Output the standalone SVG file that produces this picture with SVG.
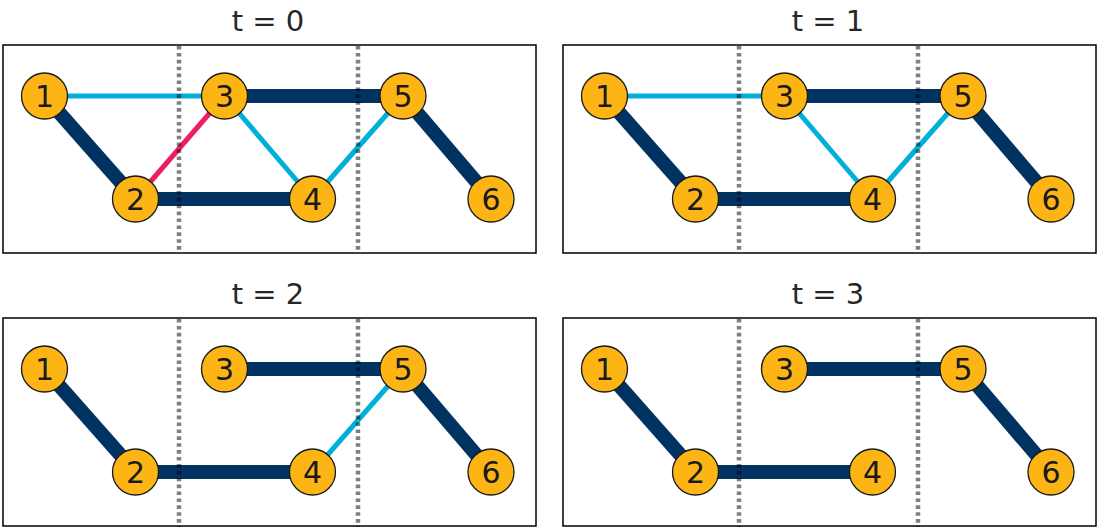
<svg xmlns="http://www.w3.org/2000/svg" width="1098" height="527" viewBox="0 0 1098 527">
<style>
.frame{fill:none;stroke:#000;stroke-width:1.5}
.title{font-family:"DejaVu Sans",sans-serif;font-size:29px;fill:#262626;text-anchor:middle}
.thick{stroke:#003262;stroke-width:14;fill:none}
.blue{stroke:#00B0DA;stroke-width:5;fill:none}
.pink{stroke:#EE1F60;stroke-width:5;fill:none}
.sep{stroke:#000;stroke-opacity:0.5;stroke-width:4.5;stroke-dasharray:3.6 3.3;fill:none}
.node circle{fill:#FDB515;stroke:#1a1a1a;stroke-width:1.3}
.node text{font-family:"DejaVu Sans",sans-serif;font-size:30px;fill:#1a1a1a;text-anchor:middle}
</style>
<rect width="1098" height="527" fill="#fff"/>
<g id="frames">
<rect class="frame" x="3" y="45" width="533" height="208"/>
<rect class="frame" x="563" y="45" width="533" height="208"/>
<rect class="frame" x="3" y="318" width="533" height="208"/>
<rect class="frame" x="563" y="318" width="533" height="208"/>
<text class="title" x="268" y="31">t = 0</text>
<text class="title" x="828" y="31">t = 1</text>
<text class="title" x="268" y="304">t = 2</text>
<text class="title" x="828" y="304">t = 3</text>
</g>
<g id="connectors">
<!-- t=0 -->
<line class="blue" x1="44.5" y1="96" x2="224.5" y2="96"/>
<line class="thick" x1="44.5" y1="96" x2="135.5" y2="199"/>
<line class="pink" x1="135.5" y1="199" x2="224.5" y2="96"/>
<line class="thick" x1="224.5" y1="96" x2="403" y2="96"/>
<line class="blue" x1="224.5" y1="96" x2="312.5" y2="199"/>
<line class="thick" x1="135.5" y1="199" x2="312.5" y2="199"/>
<line class="blue" x1="312.5" y1="199" x2="403" y2="96"/>
<line class="thick" x1="403" y1="96" x2="491" y2="199"/>
<!-- t=1 -->
<line class="blue" x1="604.5" y1="96" x2="784.5" y2="96"/>
<line class="thick" x1="604.5" y1="96" x2="695.5" y2="199"/>
<line class="thick" x1="784.5" y1="96" x2="963" y2="96"/>
<line class="blue" x1="784.5" y1="96" x2="872.5" y2="199"/>
<line class="thick" x1="695.5" y1="199" x2="872.5" y2="199"/>
<line class="blue" x1="872.5" y1="199" x2="963" y2="96"/>
<line class="thick" x1="963" y1="96" x2="1051" y2="199"/>
<!-- t=2 -->
<line class="thick" x1="44.5" y1="369" x2="135.5" y2="472"/>
<line class="thick" x1="224.5" y1="369" x2="403" y2="369"/>
<line class="thick" x1="135.5" y1="472" x2="312.5" y2="472"/>
<line class="blue" x1="312.5" y1="472" x2="403" y2="369"/>
<line class="thick" x1="403" y1="369" x2="491" y2="472"/>
<!-- t=3 -->
<line class="thick" x1="604.5" y1="369" x2="695.5" y2="472"/>
<line class="thick" x1="784.5" y1="369" x2="963" y2="369"/>
<line class="thick" x1="695.5" y1="472" x2="872.5" y2="472"/>
<line class="thick" x1="963" y1="369" x2="1051" y2="472"/>
</g>
<g id="separators">
<line class="sep" x1="179" y1="46" x2="179" y2="253"/>
<line class="sep" x1="358" y1="46" x2="358" y2="253"/>
<line class="sep" x1="739" y1="46" x2="739" y2="253"/>
<line class="sep" x1="918" y1="46" x2="918" y2="253"/>
<line class="sep" x1="179" y1="319" x2="179" y2="527"/>
<line class="sep" x1="358" y1="319" x2="358" y2="527"/>
<line class="sep" x1="739" y1="319" x2="739" y2="527"/>
<line class="sep" x1="918" y1="319" x2="918" y2="527"/>
</g>
<g id="t0-n1" class="node"><circle cx="44.5" cy="96" r="23"/><text x="44.5" y="107">1</text></g>
<g id="t0-n2" class="node"><circle cx="135.5" cy="199" r="23"/><text x="135.5" y="210">2</text></g>
<g id="t0-n3" class="node"><circle cx="224.5" cy="96" r="23"/><text x="224.5" y="107">3</text></g>
<g id="t0-n4" class="node"><circle cx="312.5" cy="199" r="23"/><text x="312.5" y="210">4</text></g>
<g id="t0-n5" class="node"><circle cx="403" cy="96" r="23"/><text x="403" y="107">5</text></g>
<g id="t0-n6" class="node"><circle cx="491" cy="199" r="23"/><text x="491" y="210">6</text></g>
<g id="t1-n1" class="node"><circle cx="604.5" cy="96" r="23"/><text x="604.5" y="107">1</text></g>
<g id="t1-n2" class="node"><circle cx="695.5" cy="199" r="23"/><text x="695.5" y="210">2</text></g>
<g id="t1-n3" class="node"><circle cx="784.5" cy="96" r="23"/><text x="784.5" y="107">3</text></g>
<g id="t1-n4" class="node"><circle cx="872.5" cy="199" r="23"/><text x="872.5" y="210">4</text></g>
<g id="t1-n5" class="node"><circle cx="963" cy="96" r="23"/><text x="963" y="107">5</text></g>
<g id="t1-n6" class="node"><circle cx="1051" cy="199" r="23"/><text x="1051" y="210">6</text></g>
<g id="t2-n1" class="node"><circle cx="44.5" cy="369" r="23"/><text x="44.5" y="380">1</text></g>
<g id="t2-n2" class="node"><circle cx="135.5" cy="472" r="23"/><text x="135.5" y="483">2</text></g>
<g id="t2-n3" class="node"><circle cx="224.5" cy="369" r="23"/><text x="224.5" y="380">3</text></g>
<g id="t2-n4" class="node"><circle cx="312.5" cy="472" r="23"/><text x="312.5" y="483">4</text></g>
<g id="t2-n5" class="node"><circle cx="403" cy="369" r="23"/><text x="403" y="380">5</text></g>
<g id="t2-n6" class="node"><circle cx="491" cy="472" r="23"/><text x="491" y="483">6</text></g>
<g id="t3-n1" class="node"><circle cx="604.5" cy="369" r="23"/><text x="604.5" y="380">1</text></g>
<g id="t3-n2" class="node"><circle cx="695.5" cy="472" r="23"/><text x="695.5" y="483">2</text></g>
<g id="t3-n3" class="node"><circle cx="784.5" cy="369" r="23"/><text x="784.5" y="380">3</text></g>
<g id="t3-n4" class="node"><circle cx="872.5" cy="472" r="23"/><text x="872.5" y="483">4</text></g>
<g id="t3-n5" class="node"><circle cx="963" cy="369" r="23"/><text x="963" y="380">5</text></g>
<g id="t3-n6" class="node"><circle cx="1051" cy="472" r="23"/><text x="1051" y="483">6</text></g>
</svg>
